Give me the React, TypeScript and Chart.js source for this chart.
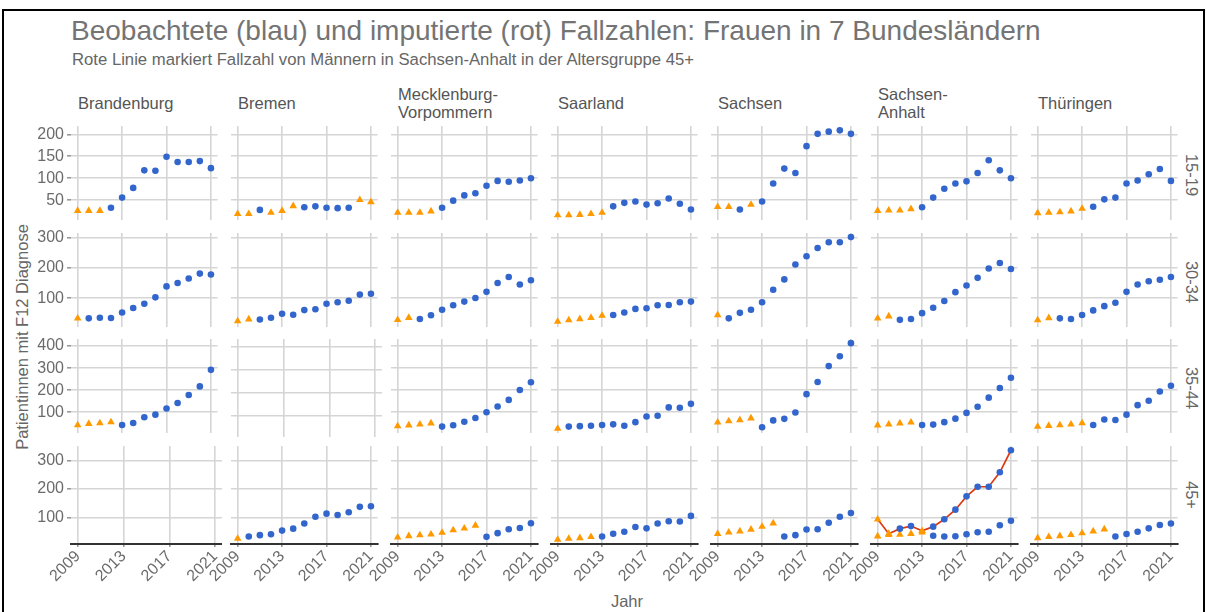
import { useEffect, useRef } from "react";
import { Chart, registerables } from "chart.js";

Chart.register(...registerables);

// ---------- categories / labels ----------
const years = [2009, 2010, 2011, 2012, 2013, 2014, 2015, 2016, 2017, 2018, 2019, 2020, 2021];
const states = ["Brandenburg", "Bremen", "Mecklenburg-\nVorpommern", "Saarland", "Sachsen", "Sachsen-\nAnhalt", "Thüringen"];
const ageGroups = ["15-19", "30-34", "35-44", "45+"];
const xTickYears = [2009, 2013, 2017, 2021];
const yTicks15_19 = [50, 100, 150, 200];
const yTicks30_34 = [100, 200, 300];
const yTicks35_44 = [100, 200, 300, 400];
const yTicks45plus = [100, 200, 300];

// ---------- 15-19 ----------
const brandenburg15_19 = [26, 26, 26, 33, 56, 78, 118, 117, 149, 137, 137, 139, 123];
const brandenburg15_19Imp = [1, 1, 1, 0, 0, 0, 0, 0, 0, 0, 0, 0, 0];
const bremen15_19 = [19, 19, 28, 22, 26, 37, 34, 36, 33, 32, 33, 51, 46];
const bremen15_19Imp = [1, 1, 0, 1, 1, 1, 0, 0, 0, 0, 0, 1, 1];
const mecklenburg15_19 = [22, 22, 22, 25, 33, 49, 61, 66, 83, 94, 92, 95, 100];
const mecklenburg15_19Imp = [1, 1, 1, 1, 0, 0, 0, 0, 0, 0, 0, 0, 0];
const saarland15_19 = [16, 16, 17, 19, 22, 36, 44, 47, 40, 43, 54, 42, 29];
const saarland15_19Imp = [1, 1, 1, 1, 1, 0, 0, 0, 0, 0, 0, 0, 0];
const sachsen15_19 = [35, 35, 29, 40, 47, 88, 122, 112, 173, 201, 206, 209, 201];
const sachsen15_19Imp = [1, 1, 0, 1, 0, 0, 0, 0, 0, 0, 0, 0, 0];
const sachsenAnhalt15_19 = [26, 27, 27, 30, 34, 56, 76, 88, 93, 112, 141, 118, 100];
const sachsenAnhalt15_19Imp = [1, 1, 1, 1, 0, 0, 0, 0, 0, 0, 0, 0, 0];
const thueringen15_19 = [21, 22, 23, 25, 31, 35, 52, 56, 88, 95, 109, 121, 94];
const thueringen15_19Imp = [1, 1, 1, 1, 1, 0, 0, 0, 0, 0, 0, 0, 0];

// ---------- 30-34 ----------
const brandenburg30_34 = [34, 34, 36, 35, 53, 68, 82, 103, 139, 150, 165, 181, 178];
const brandenburg30_34Imp = [1, 0, 0, 0, 0, 0, 0, 0, 0, 0, 0, 0, 0];
const bremen30_34 = [25, 31, 30, 36, 49, 46, 61, 64, 82, 87, 92, 112, 115];
const bremen30_34Imp = [1, 1, 0, 0, 0, 0, 0, 0, 0, 0, 0, 0, 0];
const mecklenburg30_34 = [29, 36, 32, 44, 62, 77, 89, 101, 121, 150, 170, 145, 159];
const mecklenburg30_34Imp = [1, 1, 0, 0, 0, 0, 0, 0, 0, 0, 0, 0, 0];
const saarland30_34 = [23, 28, 32, 36, 43, 45, 53, 65, 67, 77, 78, 87, 89];
const saarland30_34Imp = [1, 1, 1, 1, 1, 0, 0, 0, 0, 0, 0, 0, 0];
const sachsen30_34 = [45, 34, 52, 62, 87, 128, 162, 211, 238, 265, 284, 284, 301];
const sachsen30_34Imp = [1, 0, 0, 0, 0, 0, 0, 0, 0, 0, 0, 0, 0];
const sachsenAnhalt30_34 = [34, 41, 29, 32, 51, 69, 91, 120, 142, 167, 198, 216, 196];
const sachsenAnhalt30_34Imp = [1, 1, 0, 0, 0, 0, 0, 0, 0, 0, 0, 0, 0];
const thueringen30_34 = [28, 35, 34, 32, 45, 60, 74, 85, 121, 145, 156, 161, 170];
const thueringen30_34Imp = [1, 1, 0, 0, 0, 0, 0, 0, 0, 0, 0, 0, 0];

// ---------- 35-44 ----------
const brandenburg35_44 = [42, 48, 51, 55, 42, 51, 77, 89, 117, 142, 178, 217, 292];
const brandenburg35_44Imp = [1, 1, 1, 1, 0, 0, 0, 0, 0, 0, 0, 0, 0];
const bremen35_44: number[] = [];
const bremen35_44Imp: number[] = [];
const mecklenburg35_44 = [37, 41, 45, 50, 35, 41, 57, 74, 100, 126, 156, 201, 236];
const mecklenburg35_44Imp = [1, 1, 1, 1, 0, 0, 0, 0, 0, 0, 0, 0, 0];
const saarland35_44 = [26, 35, 37, 39, 42, 45, 39, 55, 81, 84, 122, 120, 138];
const saarland35_44Imp = [1, 0, 0, 0, 0, 0, 0, 0, 0, 0, 0, 0, 0];
const sachsen35_44 = [54, 60, 65, 73, 32, 63, 70, 99, 182, 237, 309, 354, 413];
const sachsen35_44Imp = [1, 1, 1, 1, 0, 0, 0, 0, 0, 0, 0, 0, 0];
const sachsenAnhalt35_44 = [41, 45, 50, 54, 42, 44, 55, 71, 97, 125, 166, 210, 256];
const sachsenAnhalt35_44Imp = [1, 1, 1, 1, 0, 0, 0, 0, 0, 0, 0, 0, 0];
const thueringen35_44 = [35, 39, 42, 45, 51, 42, 67, 65, 89, 132, 152, 194, 220];
const thueringen35_44Imp = [1, 1, 1, 1, 1, 0, 0, 0, 0, 0, 0, 0, 0];

// ---------- 45+ ----------
const brandenburg45plus: number[] = [];
const brandenburg45plusImp: number[] = [];
const bremen45plus = [25, 32, 37, 40, 53, 60, 78, 102, 113, 108, 118, 137, 139];
const bremen45plusImp = [1, 0, 0, 0, 0, 0, 0, 0, 0, 0, 0, 0, 0];
const mecklenburg45plus = [29, 34, 37, 40, 46, 55, 61, 71, 31, 44, 58, 62, 79];
const mecklenburg45plusImp = [1, 1, 1, 1, 1, 1, 1, 1, 0, 0, 0, 0, 0];
const saarland45plus = [21, 25, 27, 31, 32, 42, 49, 66, 61, 78, 86, 85, 105];
const saarland45plusImp = [1, 1, 1, 1, 0, 0, 0, 0, 0, 0, 0, 0, 0];
const sachsen45plus = [42, 47, 51, 57, 67, 79, 32, 37, 57, 58, 81, 102, 115];
const sachsen45plusImp = [1, 1, 1, 1, 1, 1, 0, 0, 0, 0, 0, 0, 0];
const sachsenAnhalt45plus = [33, 38, 39, 42, 47, 35, 32, 33, 40, 47, 49, 72, 88];
const sachsenAnhalt45plusImp = [1, 1, 1, 1, 1, 0, 0, 0, 0, 0, 0, 0, 0];
const thueringen45plus = [27, 31, 34, 38, 44, 51, 58, 32, 41, 49, 61, 73, 78];
const thueringen45plusImp = [1, 1, 1, 1, 1, 1, 1, 0, 0, 0, 0, 0, 0];

// Men, Sachsen-Anhalt, 45+ (red line)
const menSachsenAnhalt45plus = [93, 42, 60, 69, 52, 67, 93, 127, 174, 208, 208, 259, 337];
const menSachsenAnhalt45plusImp = [1, 1, 0, 0, 1, 0, 0, 0, 0, 0, 0, 0, 0];

// ---------- assembled tables ----------
const valuesTable: number[][][] = [
  [brandenburg15_19, bremen15_19, mecklenburg15_19, saarland15_19, sachsen15_19, sachsenAnhalt15_19, thueringen15_19],
  [brandenburg30_34, bremen30_34, mecklenburg30_34, saarland30_34, sachsen30_34, sachsenAnhalt30_34, thueringen30_34],
  [brandenburg35_44, bremen35_44, mecklenburg35_44, saarland35_44, sachsen35_44, sachsenAnhalt35_44, thueringen35_44],
  [brandenburg45plus, bremen45plus, mecklenburg45plus, saarland45plus, sachsen45plus, sachsenAnhalt45plus, thueringen45plus],
];
const imputedTable: number[][][] = [
  [brandenburg15_19Imp, bremen15_19Imp, mecklenburg15_19Imp, saarland15_19Imp, sachsen15_19Imp, sachsenAnhalt15_19Imp, thueringen15_19Imp],
  [brandenburg30_34Imp, bremen30_34Imp, mecklenburg30_34Imp, saarland30_34Imp, sachsen30_34Imp, sachsenAnhalt30_34Imp, thueringen30_34Imp],
  [brandenburg35_44Imp, bremen35_44Imp, mecklenburg35_44Imp, saarland35_44Imp, sachsen35_44Imp, sachsenAnhalt35_44Imp, thueringen35_44Imp],
  [brandenburg45plusImp, bremen45plusImp, mecklenburg45plusImp, saarland45plusImp, sachsen45plusImp, sachsenAnhalt45plusImp, thueringen45plusImp],
];
const yTicksByRow = [yTicks15_19, yTicks30_34, yTicks35_44, yTicks45plus];
const yRangeByRow: [number, number][] = [
  [5.9, 218.9],
  [6.8, 314.5],
  [7.7, 431.9],
  [5.7, 352],
];

// ---------- layout ----------
const PANEL_LEFT0 = 71;
const PANEL_PITCH_X = 160;
const PANEL_W = 151;
const ROW_TOPS = [126, 233, 339, 446];
const PANEL_H = 98;
const PAD_L = 66;
const PAD_T = 12;
const AXIS_B = 52;

const BLUE = "#3366CC";
const ORANGE = "#FF9900";
const RED = "#DC3912";
const GRID = "#d5d5d5";
const TEXT = "#6b6b6b";
const FONT = "'Liberation Sans', Arial, sans-serif";

Chart.defaults.font.family = FONT;

function pts(vals: number[], imp: number[], want: number) {
  const out: { x: number; y: number }[] = [];
  vals.forEach((v, i) => {
    if (imp[i] === want) out.push({ x: years[i], y: v });
  });
  return out;
}

export default function App() {
  const refs = useRef<(HTMLCanvasElement | null)[]>([]);

  useEffect(() => {
    const charts: Chart[] = [];
    for (let r = 0; r < 4; r++) {
      for (let c = 0; c < 7; c++) {
        const canvas = refs.current[r * 7 + c];
        if (!canvas) continue;
        const vals = valuesTable[r][c];
        const imp = imputedTable[r][c];
        const obs = pts(vals, imp, 0);
        const imputed = pts(vals, imp, 1);
        const datasets: any[] = [];
        const isMenPanel = r === 3 && c === 5;
        if (isMenPanel) {
          obs.push(...pts(menSachsenAnhalt45plus, menSachsenAnhalt45plusImp, 0));
          imputed.push(...pts(menSachsenAnhalt45plus, menSachsenAnhalt45plusImp, 1));
          datasets.push({
            label: "Männer",
            data: menSachsenAnhalt45plus.map((v, i) => ({ x: years[i], y: v })),
            showLine: true,
            borderColor: RED,
            borderWidth: 1.7,
            pointRadius: 0,
            order: 3,
          });
        }
        datasets.push({
          label: "imputiert",
          data: imputed,
          pointStyle: "triangle",
          pointRadius: 4.4,
          backgroundColor: ORANGE,
          borderColor: ORANGE,
          pointBorderWidth: 0,
          order: 1,
        });
        datasets.push({
          label: "beobachtet",
          data: obs,
          pointStyle: "circle",
          pointRadius: 3.3,
          backgroundColor: BLUE,
          borderColor: BLUE,
          pointBorderWidth: 0,
          order: 0,
        });
        const [ymin, ymax] = yRangeByRow[r];
        const yTicks = yTicksByRow[r];
        const chart = new Chart(canvas, {
          type: "scatter",
          data: { datasets },
          options: {
            animation: false,
            responsive: false,
            devicePixelRatio: 1,
            events: [],
            layout: { padding: { left: c === 0 ? 0 : PAD_L, top: PAD_T, right: 0, bottom: 0 } },
            plugins: { legend: { display: false }, tooltip: { enabled: false } },
            scales: {
              x: {
                type: "linear",
                min: 2008.4,
                max: 2021.6,
                afterBuildTicks: (s: any) => {
                  s.ticks = xTickYears.map((v) => ({ value: v }));
                },
                afterFit: (s: any) => {
                  s.height = r === 3 ? AXIS_B : 0;
                  s.paddingLeft = 0;
                  s.paddingRight = 0;
                  s.paddingTop = 0;
                  s.paddingBottom = 0;
                },
                ticks: {
                  display: r === 3,
                  autoSkip: false,
                  minRotation: 45,
                  maxRotation: 45,
                  padding: 0,
                  color: TEXT,
                  font: { size: 16 },
                  callback: (v: any) => String(v),
                },
                grid: { color: GRID, lineWidth: 1.6, drawTicks: r === 3, tickLength: 3, tickColor: "#999" },
                border: { display: r === 3, color: "#333333", width: 2 },
              },
              y: {
                type: "linear",
                min: ymin,
                max: ymax,
                afterBuildTicks: (s: any) => {
                  s.ticks = yTicks.map((v) => ({ value: v }));
                },
                afterFit: (s: any) => {
                  s.width = c === 0 ? PAD_L : 0;
                  s.paddingLeft = 0;
                  s.paddingRight = 0;
                  s.paddingTop = 0;
                  s.paddingBottom = 0;
                },
                ticks: {
                  display: c === 0,
                  autoSkip: false,
                  padding: 3,
                  color: TEXT,
                  font: { size: 16 },
                  callback: (v: any) => String(v),
                },
                grid: { color: GRID, lineWidth: 1.6, drawTicks: c === 0, tickLength: 4, tickColor: "#999" },
                border: { display: false },
              },
            },
          } as any,
        });
        charts.push(chart);
      }
    }
    return () => charts.forEach((ch) => ch.destroy());
  }, []);

  const canvases = [];
  for (let r = 0; r < 4; r++) {
    for (let c = 0; c < 7; c++) {
      const left = PANEL_LEFT0 + c * PANEL_PITCH_X - PAD_L;
      const top = ROW_TOPS[r] - PAD_T;
      const w = PAD_L + PANEL_W;
      const h = PAD_T + PANEL_H + (r === 3 ? AXIS_B : 0);
      canvases.push(
        <canvas
          key={`${r}-${c}`}
          ref={(el) => {
            refs.current[r * 7 + c] = el;
          }}
          width={w}
          height={h}
          style={{ position: "absolute", left, top, width: w, height: h }}
        />
      );
    }
  }

  return (
    <div
      style={{
        position: "absolute",
        left: 0,
        top: 0,
        width: 1207,
        height: 612,
        background: "#ffffff",
        overflow: "hidden",
        fontFamily: FONT,
      }}
    >
      <div
        style={{
          position: "absolute",
          left: 2,
          top: 9,
          width: 1203,
          height: 700,
          boxSizing: "border-box",
          borderLeft: "2px solid #000",
          borderTop: "2px solid #000",
          borderRight: "2px solid #000",
        }}
      />
      <div style={{ position: "absolute", left: 71, top: 31, transform: "translateY(-50%)", fontSize: 28, color: "#747474", whiteSpace: "nowrap" }}>
        Beobachtete (blau) und imputierte (rot) Fallzahlen: Frauen in 7 Bundesländern
      </div>
      <div style={{ position: "absolute", left: 72, top: 60, transform: "translateY(-50%)", fontSize: 16.7, color: "#666", whiteSpace: "nowrap" }}>
        Rote Linie markiert Fallzahl von Männern in Sachsen-Anhalt in der Altersgruppe 45+
      </div>
      {states.map((s, c) => (
        <div
          key={s}
          style={{
            position: "absolute",
            left: PANEL_LEFT0 + c * PANEL_PITCH_X + 7,
            top: 103,
            transform: "translateY(-50%)",
            fontSize: 16.5,
            lineHeight: "18px",
            color: "#555",
            whiteSpace: "pre",
          }}
        >
          {s}
        </div>
      ))}
      {ageGroups.map((a, r) => (
        <div
          key={a}
          style={{
            position: "absolute",
            left: 1191,
            top: ROW_TOPS[r] + PANEL_H / 2,
            transform: "translate(-50%, -50%) rotate(90deg)",
            fontSize: 16.5,
            color: "#666",
            whiteSpace: "nowrap",
          }}
        >
          {a}
        </div>
      ))}
      <div style={{ position: "absolute", left: 627, top: 601, transform: "translate(-50%, -50%)", fontSize: 16.5, color: "#666" }}>
        Jahr
      </div>
      <div
        style={{
          position: "absolute",
          left: 22,
          top: 337,
          transform: "translate(-50%, -50%) rotate(-90deg)",
          fontSize: 16.5,
          color: "#666",
          whiteSpace: "nowrap",
        }}
      >
        Patientinnen mit F12 Diagnose
      </div>
      {canvases}
    </div>
  );
}
